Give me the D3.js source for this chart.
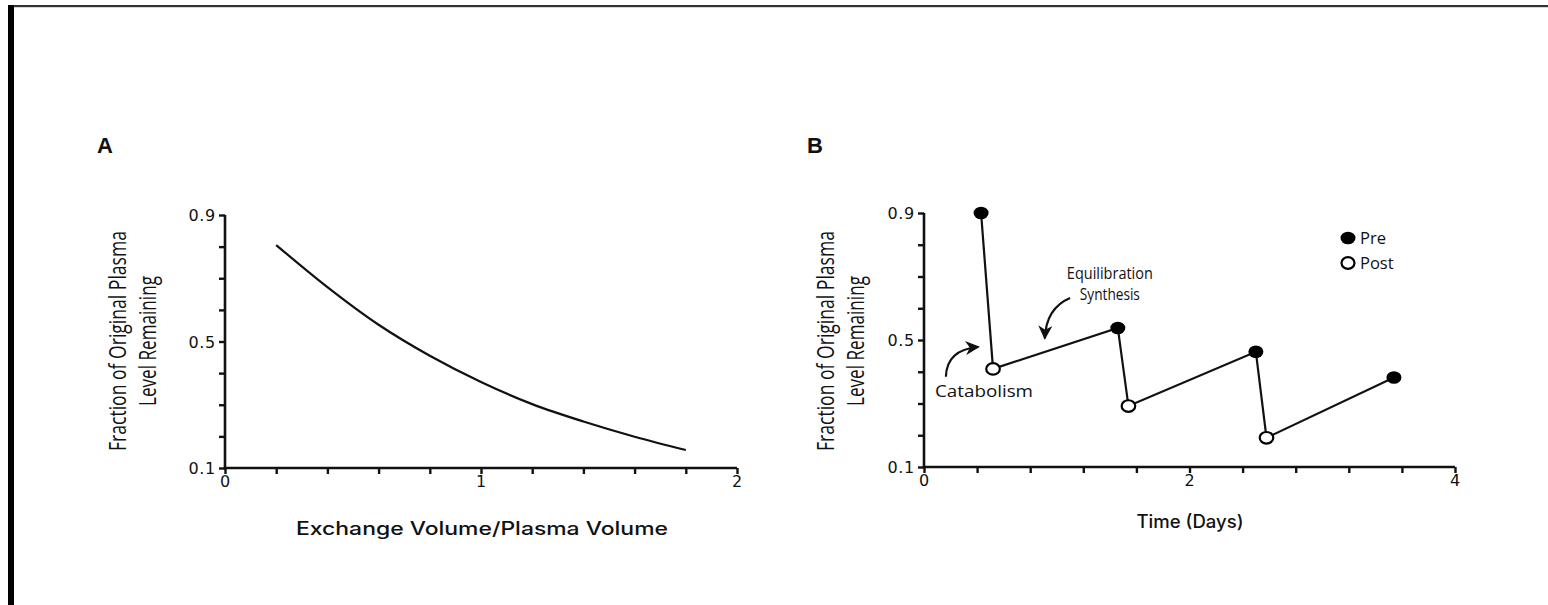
<!DOCTYPE html>
<html>
<head>
<meta charset="utf-8">
<script src="https://cdn.jsdelivr.net/npm/d3@7"></script>
<style>
  html, body { margin: 0; padding: 0; background: #fff; }
  svg { display: block; }
  text { fill: #111; }
</style>
</head>
<body>
<svg id="chart" width="1548" height="605"></svg>
<script>
// ---------- Data ----------
// Panel A: exchange volume / plasma volume vs fraction remaining
const exchangeRatio = [0.2, 0.4, 0.6, 0.8, 1.0, 1.2, 1.4, 1.6, 1.8];
const fractionRemaining = [0.805, 0.672, 0.553, 0.455, 0.372, 0.302, 0.247, 0.199, 0.157];

// Panel B: pre / post exchange levels over time (days)
const preDays = [0.43, 1.46, 2.50, 3.54];
const preLevel = [0.90, 0.538, 0.463, 0.382];
const postDays = [0.52, 1.54, 2.58];
const postLevel = [0.409, 0.292, 0.192];

// Axis ticks
const yTicks = [0.1, 0.2, 0.3, 0.4, 0.5, 0.6, 0.7, 0.8, 0.9];
const yTickLabels = [0.1, 0.5, 0.9];
const xTicksA = [0, 0.2, 0.4, 0.6, 0.8, 1.0, 1.2, 1.4, 1.6, 1.8, 2.0];
const xTickLabelsA = [0, 1, 2];
const xTicksB = [0, 0.4, 0.8, 1.2, 1.6, 2.0, 2.4, 2.8, 3.2, 3.6, 4.0];
const xTickLabelsB = [0, 2, 4];

const legendLabels = ["Pre", "Post"];

// ---------- Drawing ----------
const svg = d3.select("#chart");
const FONT = "'Open Sans', 'DejaVu Sans', sans-serif";
const FONT_M = "Inter, 'Open Sans', sans-serif";
const FONT_TICK = "'DejaVu Sans', 'Open Sans', sans-serif";

// frame
svg.append("rect").attr("x", 8).attr("y", 5).attr("width", 1540).attr("height", 2.2).attr("fill", "#333");
svg.append("rect").attr("x", 8).attr("y", 5).attr("width", 6).attr("height", 600).attr("fill", "#000");

function drawAxes(x, y, xTicks, xLabels, yLabelsShown) {
  const fmtX = d => xLabels.some(v => Math.abs(v - d) < 1e-9) ? d3.format("d")(d) : "";
  const fmtY = d => yLabelsShown.some(v => Math.abs(v - d) < 1e-9) ? d3.format(".1f")(d) : "";
  const gx = svg.append("g")
    .attr("transform", `translate(0,${y.range()[0]})`)
    .call(d3.axisBottom(x).tickValues(xTicks).tickFormat(fmtX).tickSize(6).tickPadding(1).tickSizeOuter(0));
  const gy = svg.append("g")
    .attr("transform", `translate(${x.range()[0]},0)`)
    .call(d3.axisLeft(y).tickValues(yTicks).tickFormat(fmtY).tickSize(6).tickPadding(3).tickSizeOuter(0));
  [gx, gy].forEach(g => {
    g.attr("font-size", null).attr("font-family", null);
    g.select(".domain").attr("stroke", "#111").attr("stroke-width", 2.6);
    g.selectAll(".tick line").attr("stroke", "#111").attr("stroke-width", 2.4);
    g.selectAll(".tick text").style("font-family", FONT_TICK).style("font-size", "16px")
      .attr("fill", "#222").attr("letter-spacing", 0.7);
  });
  gx.select(".domain").attr("d", `M${x.range()[0] - 1.3},0H${x.range()[1]}`);
  gy.select(".domain").attr("d", `M0,${y.range()[1]}V${y.range()[0] + 1.3}`);
  gy.selectAll(".tick text").attr("dy", "0.36em");
  gx.selectAll(".tick text").attr("dy", "0.72em");
}

function yTitle(cx, cy) {
  const t = svg.append("g").attr("transform", `translate(${cx},${cy}) rotate(-90)`);
  t.append("text").attr("x", 0).attr("y", 0).attr("text-anchor", "middle")
    .style("font-family", FONT).style("font-size", "24px").attr("fill", "#1a1a1a")
    .attr("textLength", 220).attr("lengthAdjust", "spacingAndGlyphs")
    .text("Fraction of Original Plasma");
  t.append("text").attr("x", 0).attr("y", 30).attr("text-anchor", "middle")
    .style("font-family", FONT).style("font-size", "24px").attr("fill", "#1a1a1a")
    .attr("textLength", 130).attr("lengthAdjust", "spacingAndGlyphs")
    .text("Level Remaining");
}

// ---------- Panel A ----------
const xA = d3.scaleLinear().domain([0, 2]).range([225, 737]);
const yA = d3.scaleLinear().domain([0.1, 0.9]).range([468, 215]);
drawAxes(xA, yA, xTicksA, xTickLabelsA, yTickLabels);
yTitle(126, 341);

svg.append("text").attr("x", 97).attr("y", 153).style("font-family", "'Liberation Sans', Arial, sans-serif")
  .style("font-weight", "bold").style("font-size", "22px").text("A");

svg.append("text").attr("x", (xA(0) + xA(2)) / 2 + 1).attr("y", 535).attr("text-anchor", "middle")
  .style("font-family", FONT_M).style("font-weight", 500).style("font-size", "18px")
  .attr("textLength", 372).attr("lengthAdjust", "spacingAndGlyphs")
  .text("Exchange Volume/Plasma Volume");

const curveData = exchangeRatio.map((v, i) => [v, fractionRemaining[i]]);
svg.append("path").datum(curveData)
  .attr("fill", "none").attr("stroke", "#111").attr("stroke-width", 2.2)
  .attr("d", d3.line().x(d => xA(d[0])).y(d => yA(d[1])).curve(d3.curveCatmullRom));

// ---------- Panel B ----------
const xB = d3.scaleLinear().domain([0, 4]).range([924, 1455]);
const yB = d3.scaleLinear().domain([0.1, 0.9]).range([467, 213]);
drawAxes(xB, yB, xTicksB, xTickLabelsB, yTickLabels);
yTitle(834, 341);

svg.append("text").attr("x", 807).attr("y", 153).style("font-family", "'Liberation Sans', Arial, sans-serif")
  .style("font-weight", "bold").style("font-size", "22px").text("B");

svg.append("text").attr("x", 1190).attr("y", 528).attr("text-anchor", "middle")
  .style("font-family", FONT_M).style("font-weight", 500).style("font-size", "18px")
  .attr("textLength", 107).attr("lengthAdjust", "spacingAndGlyphs")
  .text("Time (Days)");

// sawtooth line
const seq = [];
preDays.forEach((d, i) => {
  seq.push([d, preLevel[i]]);
  if (i < postDays.length) seq.push([postDays[i], postLevel[i]]);
});
svg.append("path").datum(seq)
  .attr("fill", "none").attr("stroke", "#111").attr("stroke-width", 2.2)
  .attr("d", d3.line().x(d => xB(d[0])).y(d => yB(d[1])));

svg.selectAll(".pre").data(preDays).enter().append("ellipse")
  .attr("cx", d => xB(d)).attr("cy", (d, i) => yB(preLevel[i]))
  .attr("rx", 7.5).attr("ry", 6.3).attr("fill", "#000");
svg.selectAll(".post").data(postDays).enter().append("ellipse")
  .attr("cx", d => xB(d)).attr("cy", (d, i) => yB(postLevel[i]))
  .attr("rx", 6.8).attr("ry", 5.8).attr("fill", "#fff").attr("stroke", "#000").attr("stroke-width", 2.2);

// arrow marker
const defs = svg.append("defs");
defs.append("marker").attr("id", "arrow").attr("viewBox", "0 0 10 10")
  .attr("refX", 9).attr("refY", 5).attr("markerWidth", 6.5).attr("markerHeight", 6.5)
  .attr("markerUnits", "strokeWidth").attr("orient", "auto")
  .append("path").attr("d", "M0,0L10,5L0,10L3,5Z").attr("fill", "#111");

// annotations (positions in data units)
const equilArrow = [[1.10, 0.632], [0.92, 0.60], [0.91, 0.505]];
const catabArrow = [[0.165, 0.384], [0.17, 0.47], [0.41, 0.478]];
function quad(pts) {
  const p = pts.map(d => [xB(d[0]), yB(d[1])]);
  return `M${p[0][0]},${p[0][1]}Q${p[1][0]},${p[1][1]} ${p[2][0]},${p[2][1]}`;
}
[equilArrow, catabArrow].forEach(a => {
  svg.append("path").attr("d", quad(a)).attr("fill", "none")
    .attr("stroke", "#111").attr("stroke-width", 2.2).attr("marker-end", "url(#arrow)");
});

svg.append("text").attr("x", xB(1.40)).attr("y", 279).attr("text-anchor", "middle")
  .style("font-family", FONT).style("font-size", "16px")
  .attr("textLength", 86).attr("lengthAdjust", "spacingAndGlyphs")
  .text("Equilibration");
svg.append("text").attr("x", xB(1.40)).attr("y", 300).attr("text-anchor", "middle")
  .style("font-family", FONT).style("font-size", "16px")
  .attr("textLength", 60).attr("lengthAdjust", "spacingAndGlyphs")
  .text("Synthesis");
svg.append("text").attr("x", 984).attr("y", 397).attr("text-anchor", "middle")
  .style("font-family", FONT).style("font-size", "16px")
  .attr("textLength", 98).attr("lengthAdjust", "spacingAndGlyphs")
  .text("Catabolism");

// legend
const lg = svg.append("g").attr("transform", "translate(1348,238)");
legendLabels.forEach((lab, i) => {
  const g = lg.append("g").attr("transform", `translate(0,${i * 25})`);
  g.append("ellipse").attr("rx", i === 0 ? 7.5 : 6.5).attr("ry", i === 0 ? 6.3 : 5.8)
    .attr("fill", i === 0 ? "#000" : "#fff").attr("stroke", "#000").attr("stroke-width", i === 0 ? 0 : 2.2);
  g.append("text").attr("x", 12).attr("y", 6).style("font-family", FONT).style("font-size", "16.5px")
    .text(lab);
});
</script>
</body>
</html>
